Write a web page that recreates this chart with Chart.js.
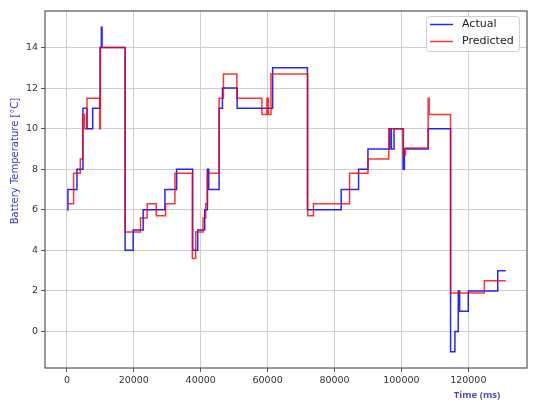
<!DOCTYPE html>
<html>
<head>
<meta charset="utf-8">
<script src="https://cdn.jsdelivr.net/npm/chart.js@4.4.0/dist/chart.umd.min.js"></script>
<style>
  body { margin: 0; background: #fff; }
  #grafico { display: block; }
</style>
</head>
<body>
<canvas id="grafico" width="540" height="406"></canvas>
<script>
// Actual battery temperature (time in ms -> value holds until next time)
const actualTime = [0, 300, 3000, 4800, 6000, 7700, 9900, 10300, 10500, 17400, 19800, 22800, 29300, 32800, 37600, 39100, 41200, 42000, 42400, 45500, 46500, 50900, 61500, 71900, 82000, 87200, 90000, 96500, 97000, 97800, 100500, 100900, 108000, 114700, 116000, 117000, 117400, 120000, 128800, 131200];
const actualTemp = [6, 7, 8, 11, 10, 11, 14, 15, 14, 4, 5, 6, 7, 8, 4, 5, 6, 8, 7, 11, 12, 11, 13, 6, 7, 8, 9, 10, 9, 10, 8, 9, 10, -1, 0, 2, 1, 2, 3, 3];

// Predicted battery temperature
const predTime = [0, 2000, 4000, 4700, 5300, 6000, 9800, 10000, 17400, 22000, 24000, 26700, 29500, 32300, 37500, 38500, 40700, 41500, 42000, 45500, 46800, 50800, 58300, 59800, 60200, 61000, 72000, 73700, 84500, 90000, 96200, 100600, 101200, 108000, 108300, 114700, 124800, 131200];
const predTemp = [6.3, 7.8, 8.5, 10.7, 10, 11.5, 10, 14, 4.9, 5.6, 6.3, 5.7, 6.3, 7.8, 3.6, 4.9, 5.6, 6.3, 7.8, 11.5, 12.7, 11.5, 10.7, 11.5, 10.7, 12.7, 5.7, 6.3, 7.8, 8.5, 10, 8.7, 9.05, 11.5, 10.7, 1.9, 2.5, 2.5];

const xTicks = [0, 20000, 40000, 60000, 80000, 100000, 120000];
const yTicks = [0, 2, 4, 6, 8, 10, 12, 14];
const legendLabels = ['Actual', 'Predicted'];

const corAzul = 'rgba(0, 0, 255, 0.85)';
const corVermelha = 'rgba(255, 0, 0, 0.8)';

function pontos(tempos, valores) {
  return tempos.map((t, i) => ({ x: t, y: valores[i] }));
}

// moldura, legenda e titulos desenhados a mao (estilo matplotlib)
const extras = {
  id: 'extras',
  afterDraw(chart) {
    const ctx = chart.ctx;
    const a = chart.chartArea;
    ctx.save();
    ctx.strokeStyle = '#555';
    ctx.lineWidth = 1.2;
    ctx.strokeRect(a.left, a.top, a.right - a.left, a.bottom - a.top);

    // legenda
    const lx = 426, ly = 16, lw = 93, lh = 35;
    ctx.fillStyle = 'rgba(255,255,255,0.85)';
    ctx.strokeStyle = '#d0d0d0';
    ctx.lineWidth = 1;
    ctx.beginPath();
    ctx.roundRect(lx + 0.5, ly + 0.5, lw, lh, 3);
    ctx.fill();
    ctx.stroke();
    const cores = [corAzul, corVermelha];
    ctx.font = '11px "DejaVu Sans"';
    ctx.textBaseline = 'middle';
    legendLabels.forEach((txt, i) => {
      const y = ly + 8.5 + i * 17;
      ctx.strokeStyle = cores[i];
      ctx.lineWidth = 1.5;
      ctx.beginPath();
      ctx.moveTo(430, y);
      ctx.lineTo(453, y);
      ctx.stroke();
      ctx.fillStyle = '#222';
      ctx.fillText(txt, 462, y);
    });

    // titulo eixo y
    ctx.fillStyle = '#3b3bd6';
    ctx.font = '10px "DejaVu Sans"';
    ctx.textAlign = 'center';
    ctx.textBaseline = 'middle';
    ctx.translate(15, 161);
    ctx.rotate(-Math.PI / 2);
    ctx.fillText('Battery Temperature [°C]', 0, 0);
    ctx.restore();

    // titulo eixo x
    ctx.save();
    ctx.fillStyle = '#4a4ac8';
    ctx.font = 'bold 9.5px "Open Sans"';
    ctx.textAlign = 'center';
    ctx.textBaseline = 'middle';
    ctx.fillText('Time (ms)', 477, 395);
    ctx.restore();
  }
};

const grafico = new Chart(document.getElementById('grafico').getContext('2d'), {
  type: 'line',
  data: {
    datasets: [
      {
        label: 'Actual',
        data: pontos(actualTime, actualTemp),
        borderColor: corAzul,
        borderWidth: 1.5,
        stepped: true,
        pointRadius: 0,
        fill: false,
        order: 2,
      },
      {
        label: 'Predicted',
        data: pontos(predTime, predTemp),
        borderColor: corVermelha,
        borderWidth: 1.5,
        stepped: true,
        pointRadius: 0,
        fill: false,
        order: 1,
      },
    ],
  },
  options: {
    responsive: false,
    animation: false,
    layout: { padding: { left: 0, right: 13, top: 11, bottom: 0 } },
    scales: {
      x: {
        type: 'linear',
        min: -6550,
        max: 137550,
        afterBuildTicks: (s) => { s.ticks = xTicks.map(v => ({ value: v })); },
        afterFit: (s) => { s.height = 38; },
        grid: { color: '#cfcfcf', lineWidth: 1, tickColor: '#555', tickLength: 4, drawOnChartArea: true },
        border: { display: false },
        ticks: {
          color: '#333',
          font: { family: 'DejaVu Sans', size: 9.5 },
          padding: 3,
          maxRotation: 0,
          autoSkip: false,
          callback: (v) => String(v),
        },
      },
      y: {
        min: -1.8,
        max: 15.8,
        afterBuildTicks: (s) => { s.ticks = yTicks.map(v => ({ value: v })); },
        afterFit: (s) => { s.width = 45; },
        grid: { color: '#cfcfcf', lineWidth: 1, tickColor: '#555', tickLength: 4 },
        border: { display: false },
        ticks: {
          color: '#333',
          font: { family: 'DejaVu Sans', size: 9.5 },
          padding: 3,
          autoSkip: false,
          callback: (v) => String(v),
        },
      },
    },
    plugins: {
      legend: { display: false },
      tooltip: { enabled: false },
    },
  },
  plugins: [extras],
});
</script>
</body>
</html>
